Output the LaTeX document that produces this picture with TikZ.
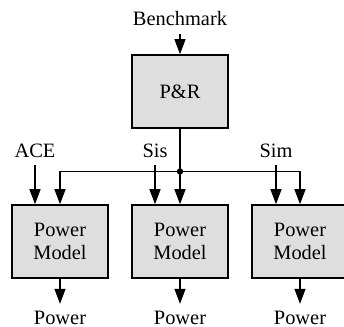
\documentclass[tikz,border=0pt]{standalone}
\usepackage{fontspec}
\setmainfont{Liberation Serif}
\usetikzlibrary{arrows.meta,positioning}

\begin{document}
\begin{tikzpicture}
      [x=0.5pt,y=-0.5pt,
      font=\fontsize{10.2}{11.5}\selectfont,
      block/.style={draw,fill=black!13,line width=0.8pt,
        minimum width=48pt,minimum height=36.5pt,align=center,inner sep=0pt},
      lbl/.style={inner sep=3.5pt},
      flow/.style={-{Triangle[length=7.5pt,width=5.5pt]},line width=0.6pt}]
      \useasboundingbox (0,0) rectangle (344,327);
      % place and route
      \node[lbl] (bench) at (180,19) {Benchmark};
      \node[block] (pr) at (180,91.5) {P\&R};
      \coordinate (split) at (180,171.5);
      % power models
      \node[block] (pmace) at (60,241.5) {Power\\Model};
      \node[block] (pmsis) at (180,241.5) {Power\\Model};
      \node[block] (pmsim) at (300,241.5) {Power\\Model};
      \node[lbl] (ace) at (35,151) {ACE};
      \node[lbl] (sis) at (155,151) {Sis};
      \node[lbl] (sim) at (276,151) {Sim};
      \node[lbl] (outace) at (60,318) {Power};
      \node[lbl] (outsis) at (180,318) {Power};
      \node[lbl] (outsim) at (300,318) {Power};
      % connectors
      \draw[flow] (bench) -- (pr);
      \draw[line width=0.6pt] (pr) -- (split);
      \draw[flow] (split) -| (pmace.north);
      \draw[flow] (split) -- (pmsis.north);
      \draw[flow] (split) -| (pmsim.north);
      \fill (split) circle (1.6pt);
      \draw[flow] (ace) -- (ace |- pmace.north);
      \draw[flow] (sis) -- (sis |- pmsis.north);
      \draw[flow] (sim) -- (sim |- pmsim.north);
      \draw[flow] (pmace) -- (outace);
      \draw[flow] (pmsis) -- (outsis);
      \draw[flow] (pmsim) -- (outsim);
\end{tikzpicture}
\end{document}
